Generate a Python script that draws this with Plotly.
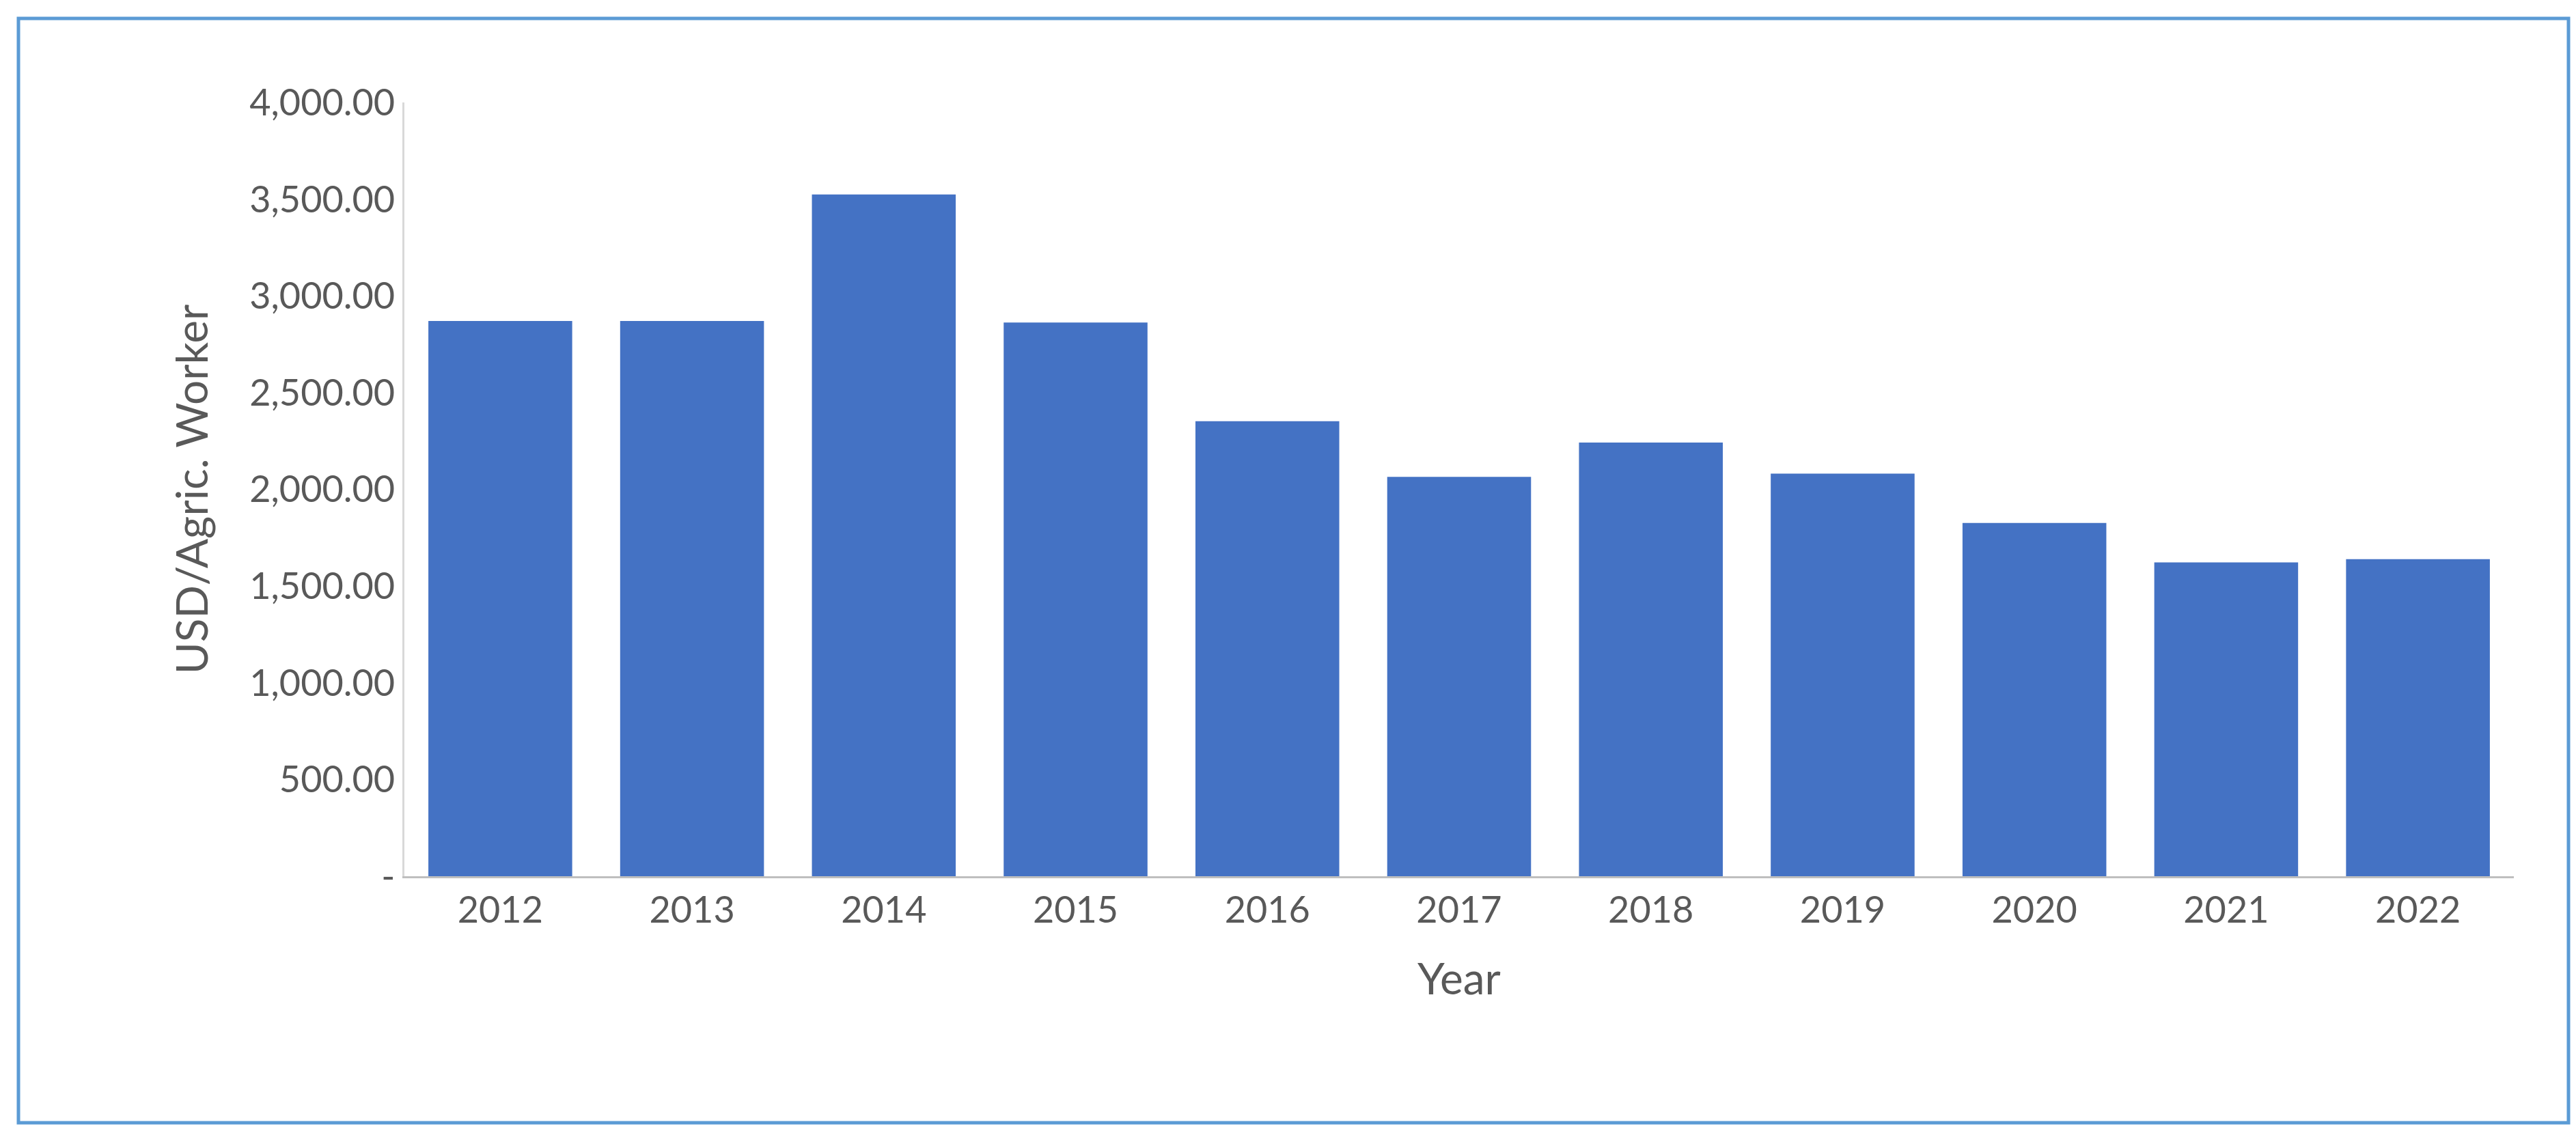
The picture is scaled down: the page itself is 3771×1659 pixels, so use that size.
import plotly.graph_objects as go

years = ["2012","2013","2014","2015","2016","2017","2018","2019","2020","2021","2022"]
values = [2870, 2870, 3524, 2862, 2352, 2064, 2242, 2081, 1826, 1622, 1639]
ytick_vals = [0, 500, 1000, 1500, 2000, 2500, 3000, 3500, 4000]
ytick_text = ["-", "500.00", "1,000.00", "1,500.00", "2,000.00", "2,500.00", "3,000.00", "3,500.00", "4,000.00"]

W, H = 3771, 1659
L, R, T, B = 584, 3672, 142, 1275
pw, ph = R - L, B - T
def px(x): return (x - L) / pw
def py(y): return (B - y) / ph

font = "Lato, Open Sans, sans-serif"
fig = go.Figure(go.Bar(x=years, y=values, marker_color="#4472C4", marker_line_width=0))
fig.update_layout(
    width=W, height=H, margin=dict(l=L, r=W - R, t=T, b=H - B),
    paper_bgcolor="white", plot_bgcolor="white", bargap=0.25, showlegend=False,
    font=dict(family=font, color="#595959", size=54),
    shapes=[dict(type="rect", xref="paper", yref="paper", x0=px(19), x1=px(3752), y0=py(19), y1=py(1636),
                 line=dict(color="#5B9BD5", width=5), layer="below")],
)
fig.update_xaxes(showline=True, linecolor="#BFBFBF", linewidth=3, ticks="", showgrid=False,
                 tickfont=dict(size=54), title=dict(text="Year", font=dict(size=64), standoff=50))
fig.update_yaxes(range=[0, 4000], tickvals=ytick_vals, ticktext=ytick_text, showgrid=False,
                 showline=True, linecolor="#D9D9D9", linewidth=3, ticks="", zeroline=False,
                 tickfont=dict(size=54), title=dict(text="USD/Agric. Worker", font=dict(size=64), standoff=40))
fig.write_html("out.html")
